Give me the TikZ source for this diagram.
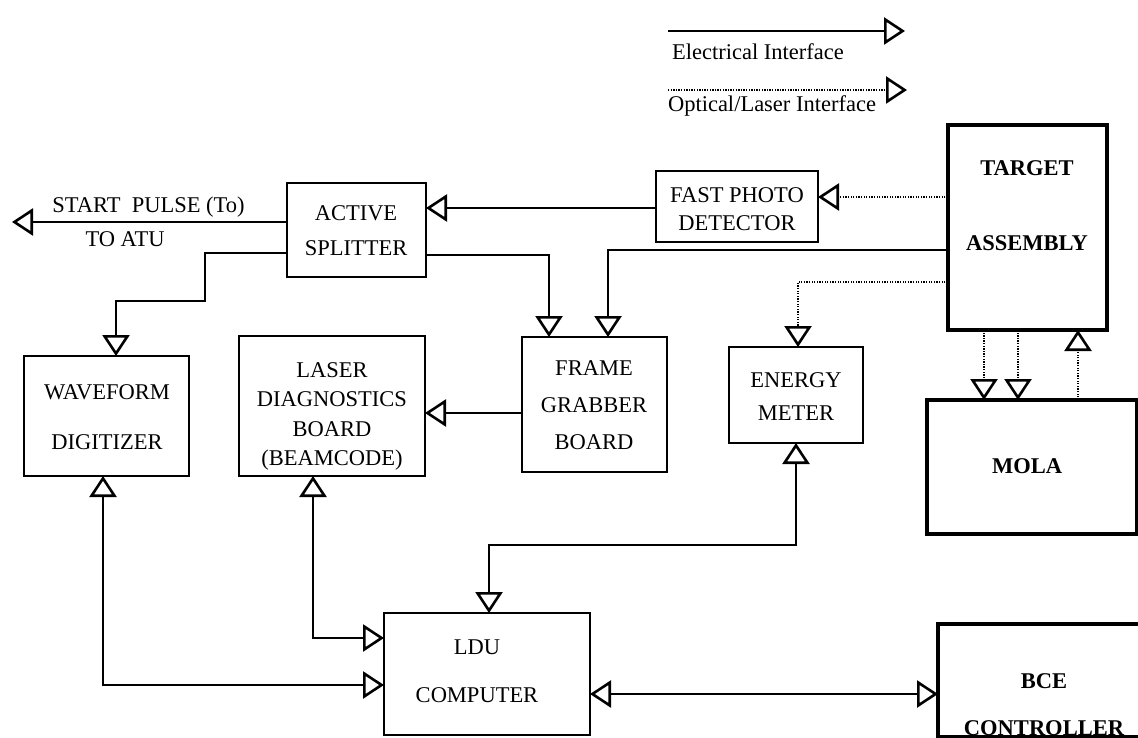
\documentclass[tikz,border=0pt]{standalone}
\usepackage{fontspec}
\setmainfont{Liberation Serif}
\usetikzlibrary{arrows.meta,calc}
\tikzset{
  otri/.tip={Triangle[length=21pt,width=27pt,line width=2.6pt,fill=white]},
  box/.style={draw, line width=2.6pt, inner sep=0pt, outer sep=0pt},
  heavy/.style={draw, line width=4.8pt, inner sep=0pt, outer sep=0pt},
  txt/.style={font=\fontsize{22.5}{#1}\selectfont, align=center, inner sep=0pt},
  txt/.default=25,
  btxt/.style={font=\fontsize{22.5}{#1}\selectfont\bfseries, align=center, inner sep=0pt},
  btxt/.default=25,
  elec/.style={line width=2.6pt, -otri},
  both/.style={line width=2.6pt, otri-otri},
  opt/.style={line width=1.3pt, dash pattern=on 1.3pt off 1.3pt, -otri}
}
\begin{document}
\begin{tikzpicture}[x=1pt,y=-1pt]
\useasboundingbox (0,0) rectangle (1138,738);
\clip (0,0) rectangle (1138,738);

% legend
\coordinate (le1) at (668,31);
\coordinate (le2) at (905,31);
\draw[elec] (le1) -- (le2);
\node[txt, anchor=base] (legE) at (758,60) {Electrical Interface};
\coordinate (lo1) at (668,90);
\coordinate (lo2) at (907,90);
\draw[opt] (lo1) -- (lo2);
\node[txt, anchor=base] (legO) at (772,112) {Optical/Laser Interface};

% boxes
\node[box, minimum width=139pt, minimum height=94pt] (split) at (356.5,230) {};
\node[box, minimum width=162pt, minimum height=71pt] (fpd) at (737,206.5) {};
\node[heavy, minimum width=159pt, minimum height=205pt] (target) at (1027.5,227.5) {};
\node[box, minimum width=165pt, minimum height=120pt] (wave) at (106.5,416) {};
\node[box, minimum width=186pt, minimum height=140pt] (laser) at (332,406) {};
\node[box, minimum width=145pt, minimum height=135pt] (frame) at (594.5,404.5) {};
\node[box, minimum width=134pt, minimum height=96pt] (energy) at (796,395) {};
\node[heavy, minimum width=210pt, minimum height=134pt] (mola) at (1032,467) {};
\node[box, minimum width=206pt, minimum height=122pt] (ldu) at (487,674) {};
\node[heavy, minimum width=212pt, minimum height=113pt] (bce) at (1044,680.5) {};

% texts
\node[txt=35] (splitT) at (356,230.5) {ACTIVE\\SPLITTER};
\node[txt=28] (fpdT) at (737,209) {FAST PHOTO\\DETECTOR};
\node[btxt=75] (targetT) at (1027,205.5) {TARGET\\ASSEMBLY};
\node[txt=50] (waveT) at (107,417) {WAVEFORM\\DIGITIZER};
\node[txt=29.3] (laserT) at (332,416.3) {LASER\\DIAGNOSTICS\\BOARD\\(BEAMCODE)};
\node[txt=37] (frameT) at (594,405) {FRAME\\GRABBER\\BOARD};
\node[txt=33] (energyT) at (796,396.5) {ENERGY\\METER};
\node[btxt, anchor=base] (molaT) at (1027,473) {MOLA};
\node[txt=48] (lduT) at (477,671) {LDU\\COMPUTER};
\node[btxt=47] (bceT) at (1044,704.5) {BCE\\CONTROLLER};
\node[txt, anchor=base] (startT) at (148.5,213) {START\ \ PULSE (To)};
\node[txt, anchor=base] (atuT) at (125,247) {TO ATU};

% connectors
\coordinate (atu) at (12,222);
\draw[elec] ([yshift=8pt]split.west) -- (atu);

\coordinate (fpdout) at ([yshift=-1.5pt]fpd.west);
\draw[elec] (fpdout) -- (fpdout -| split.east);

\coordinate (fpdin) at ([yshift=9.5pt]fpd.east);
\draw[opt] (fpdin -| target.west) -- (fpdin);

\draw[elec] ([yshift=-25pt]split.east) -| ([xshift=-45.5pt]frame.north);
\coordinate (tA) at ([yshift=-22.5pt]target.west);
\draw[elec] (tA) -| ([xshift=13.5pt]frame.north);

\coordinate (wbend) at (205,301);
\draw[elec] ([yshift=-23pt]split.west) -| (wbend) -| ([xshift=9.5pt]wave.north);

\coordinate (fg1) at ([yshift=-8.5pt]frame.west);
\draw[elec] (fg1) -- (fg1 -| laser.east);

\coordinate (tB) at ([yshift=-54.5pt]target.west);
\draw[opt] (tB) -| ([xshift=2pt]energy.north);

\coordinate (m1) at ([xshift=-43.5pt]target.south);
\draw[opt] (m1) -- (m1 |- mola.north);
\coordinate (m2) at ([xshift=-9.5pt]target.south);
\draw[opt] (m2) -- (m2 |- mola.north);
\coordinate (m3) at ([xshift=46pt]mola.north);
\draw[opt] (m3) -- (m3 |- target.south);

\coordinate (lbend) at (600,545);
\draw[both] (energy.south) |- (lbend) -| ([xshift=2pt]ldu.north);

\draw[both] ([xshift=-19pt]laser.south) |- ([yshift=36pt]ldu.west);
\draw[both] ([xshift=-3.5pt]wave.south) |- ([yshift=-11pt]ldu.west);

\coordinate (lb) at ([yshift=-20pt]ldu.east);
\draw[both] (lb) -- (lb -| bce.west);
\end{tikzpicture}
\end{document}
